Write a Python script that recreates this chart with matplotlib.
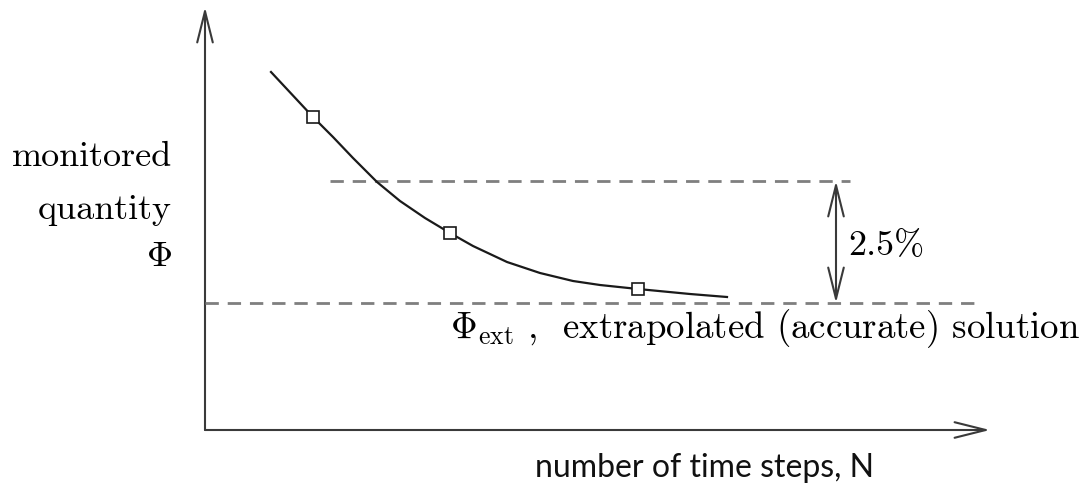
import matplotlib
matplotlib.use('Agg')
import matplotlib.pyplot as plt
from matplotlib.patches import FancyArrowPatch

plt.rcParams['mathtext.fontset'] = 'cm'

# curve (N, Phi in arbitrary units, origin at the axes corner)
curve_N = [66, 108, 128, 148, 172, 195, 220, 245, 268, 302, 335, 368, 395, 433, 485, 522]
curve_phi = [358, 313, 293, 272, 248, 229, 212, 197, 184, 168, 157, 149, 145, 141, 136, 133]

# square markers on the curve
marker_N = [108, 245, 433]
marker_phi = [313, 197, 141]

phi_ext = 127      # extrapolated (accurate) solution
phi_upper = 249    # 2.5 % band
upper_N = [125, 645]
ext_N = [0, 770]

axis_x_end = 785
axis_y_end = 423
band_arrow_N = 631

fig = plt.figure(figsize=(10.89, 4.86), dpi=100)
ax = fig.add_axes([0, 0, 1, 1])
ax.set_xlim(-205, 884)
ax.set_ylim(-56, 430)
ax.axis('off')

axis_col = '#3a3a3a'
dash_col = '#7f7f7f'
astyle = '->,head_length=1.6,head_width=0.4'

# axes with open arrow heads
ax.add_patch(FancyArrowPatch((0, 0), (axis_x_end, 0), arrowstyle=astyle,
                             mutation_scale=14, color=axis_col, lw=1.5,
                             shrinkA=0, shrinkB=0))
ax.add_patch(FancyArrowPatch((0, 0), (0, axis_y_end), arrowstyle=astyle,
                             mutation_scale=14, color=axis_col, lw=1.5,
                             shrinkA=0, shrinkB=0))

# dashed reference lines
ax.plot(upper_N, [phi_upper, phi_upper], color=dash_col, lw=2, dashes=(4.8, 3.2))
ax.plot(ext_N, [phi_ext, phi_ext], color=dash_col, lw=2, dashes=(4.8, 3.2))

# 2.5% double arrow
ax.add_patch(FancyArrowPatch((band_arrow_N, phi_ext), (band_arrow_N, phi_upper),
                             arrowstyle='<' + astyle, mutation_scale=14,
                             color=axis_col, lw=1.5, shrinkA=0, shrinkB=0))
ax.text(643, 175, '2.5%', fontfamily='cmr10', fontsize=26, va='baseline')

# convergence curve
ax.plot(curve_N, curve_phi, color='#1a1a1a', lw=1.6, solid_joinstyle='round')
ax.plot(marker_N, marker_phi, ls='none', marker='s', ms=8, mfc='white',
        mec='#1a1a1a', mew=1.2)

# labels
ax.text(-33, 264, 'monitored', fontfamily='cmr10', fontsize=26, ha='right', va='baseline')
ax.text(-33, 211, 'quantity', fontfamily='cmr10', fontsize=26, ha='right', va='baseline')
ax.text(-33, 164, r'$\Phi$', fontsize=26, ha='right', va='baseline')
ax.text(245, 92, r'$\Phi_{\rm ext}$ ,  extrapolated (accurate) solution',
        fontfamily='cmr10', fontsize=26.5, va='baseline')
ax.text(330, -47, 'number of time steps, N', fontfamily='Lato', fontsize=23,
        va='baseline', color='#111111')

fig.savefig('out.png', dpi=100)
